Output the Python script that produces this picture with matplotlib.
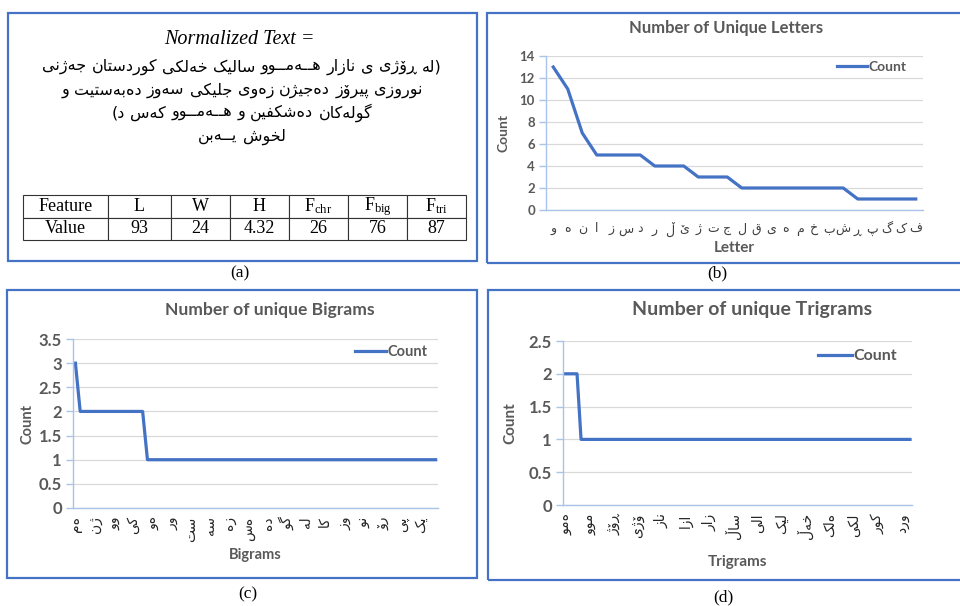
import numpy as np
import matplotlib
matplotlib.use("Agg")
import matplotlib.pyplot as plt
from matplotlib.patches import Rectangle
from matplotlib import font_manager
from matplotlib.ft2font import FT2Font

# ---------------- data ----------------
norm_title = "Normalized Text ="
norm_lines = [
    "(له ڕۆژی ی نازار هــەمــوو ساڵیک خەڵکی کوردستان جەژنی",
    "نوروزی پیرۆز دەجێژن زەوی جلێکی سەوز دەبەستێت و",
    "گوڵەکان دەشکفێن و هــەمــوو کەس د)",
    "ڵخوش یــەبن",
]
table_features = ["Feature", "L", "W", "H",
                  r"F$_{\mathrm{chr}}$", r"F$_{\mathrm{big}}$", r"F$_{\mathrm{tri}}$"]
table_values = ["Value", "93", "24", "4.32", "26", "76", "87"]

letters = ["و", "ە", "ن", "ا", "ز", "س", "د", "ر", "ڵ", "ێ", "ژ", "ت", "ج",
           "ل", "ق", "ی", "ه", "م", "خ", "ب", "ش", "ڕ", "پ", "گ", "ک", "ف"]
letter_counts = [13, 11, 7, 5, 5, 5, 5, 4, 4, 4, 3, 3, 3,
                 2, 2, 2, 2, 2, 2, 2, 2, 1, 1, 1, 1, 1]

bigram_counts = [3, 2, 2, 2, 2, 2, 2, 2, 2, 2, 2, 2, 2, 2, 2,
                 1, 1, 1, 1, 1, 1, 1, 1, 1, 1, 1, 1, 1, 1, 1, 1,
                 1, 1, 1, 1, 1, 1, 1, 1, 1, 1, 1, 1, 1, 1, 1, 1,
                 1, 1, 1, 1, 1, 1, 1, 1, 1, 1, 1, 1, 1, 1, 1, 1,
                 1, 1, 1, 1, 1, 1, 1, 1, 1, 1, 1, 1, 1]
bigram_labels = ["ەم", "ژن", "وو", "کی", "ەو", "ور", "ست", "سە", "زە", "ەس",
                 "دە", "گو", "ڵە", "کا", "وز", "نو", "رۆ", "پی", "ێک"]

trigram_counts = [2, 2, 2, 2,
                  1, 1, 1, 1, 1, 1, 1, 1, 1, 1, 1, 1, 1, 1, 1, 1,
                  1, 1, 1, 1, 1, 1, 1, 1, 1, 1, 1, 1, 1, 1, 1, 1,
                  1, 1, 1, 1, 1, 1, 1, 1, 1, 1, 1, 1, 1, 1, 1, 1,
                  1, 1, 1, 1, 1, 1, 1, 1, 1, 1, 1, 1, 1, 1, 1, 1,
                  1, 1, 1, 1, 1, 1, 1, 1, 1, 1, 1, 1, 1, 1, 1, 1,
                  1, 1, 1]
trigram_labels = ["ەمو", "موو", "ڕۆژ", "ۆژی", "ناز", "ازا", "زار", "ساڵ",
                  "اڵی", "ڵیک", "خەڵ", "ەڵک", "ڵکی", "کور", "ورد"]

# ---------------- figure ----------------
W, H = 960, 606
plt.rcParams["mathtext.fontset"] = "custom"
plt.rcParams["mathtext.rm"] = "Liberation Serif"
plt.rcParams["mathtext.it"] = "Liberation Serif:italic"
fig = plt.figure(figsize=(9.6, 6.06), dpi=100)
fig.patch.set_facecolor("white")
renderer = fig.canvas.get_renderer()

# ---------------- Arabic-script handling (simple shaper) ----------------
_ft = FT2Font(font_manager.findfont(font_manager.FontProperties(family="DejaVu Sans")))


def _has(ch):
    try:
        return _ft.get_char_index(ord(ch)) != 0
    except Exception:
        return False


def _f(*codes):
    return tuple(chr(c) if c else None for c in codes)


FORMS = {
    "\u0627": ("R",) + _f(0xFE8D, 0xFE8E, 0, 0),
    "\u0628": ("D",) + _f(0xFE8F, 0xFE90, 0xFE91, 0xFE92),
    "\u062A": ("D",) + _f(0xFE95, 0xFE96, 0xFE97, 0xFE98),
    "\u062C": ("D",) + _f(0xFE9D, 0xFE9E, 0xFE9F, 0xFEA0),
    "\u062E": ("D",) + _f(0xFEA5, 0xFEA6, 0xFEA7, 0xFEA8),
    "\u062F": ("R",) + _f(0xFEA9, 0xFEAA, 0, 0),
    "\u0631": ("R",) + _f(0xFEAD, 0xFEAE, 0, 0),
    "\u0632": ("R",) + _f(0xFEAF, 0xFEB0, 0, 0),
    "\u0633": ("D",) + _f(0xFEB1, 0xFEB2, 0xFEB3, 0xFEB4),
    "\u0634": ("D",) + _f(0xFEB5, 0xFEB6, 0xFEB7, 0xFEB8),
    "\u0641": ("D",) + _f(0xFED1, 0xFED2, 0xFED3, 0xFED4),
    "\u0642": ("D",) + _f(0xFED5, 0xFED6, 0xFED7, 0xFED8),
    "\u0644": ("D",) + _f(0xFEDD, 0xFEDE, 0xFEDF, 0xFEE0),
    "\u0645": ("D",) + _f(0xFEE1, 0xFEE2, 0xFEE3, 0xFEE4),
    "\u0646": ("D",) + _f(0xFEE5, 0xFEE6, 0xFEE7, 0xFEE8),
    "\u0647": ("D",) + _f(0xFEE9, 0xFEEA, 0xFEEB, 0xFEEC),
    "\u0648": ("R",) + _f(0xFEED, 0xFEEE, 0, 0),
    "\u06CC": ("D",) + _f(0xFBFC, 0xFBFD, 0xFBFE, 0xFBFF),
    "\u06A9": ("D",) + _f(0xFB8E, 0xFB8F, 0xFB90, 0xFB91),
    "\u06AF": ("D",) + _f(0xFB92, 0xFB93, 0xFB94, 0xFB95),
    "\u067E": ("D",) + _f(0xFB56, 0xFB57, 0xFB58, 0xFB59),
    "\u0698": ("R",) + _f(0xFB8A, 0xFB8B, 0, 0),
    "\u06C6": ("R",) + _f(0xFBD9, 0xFBDA, 0, 0),
    "\u06D5": ("R",) + _f(0x06D5, 0xFEEA, 0, 0),
    "\u0695": ("R",) + _f(0x0695, 0x0695, 0, 0),
    "\u06B5": ("D",) + _f(0x06B5, 0xFEDE, 0xFEDF, 0xFEE0),
    "\u06CE": ("D",) + _f(0x06CE, 0xFBFD, 0xFBFE, 0xFBFF),
    "\u0640": ("D",) + _f(0x0640, 0x0640, 0x0640, 0x0640),
}
MIRROR = {"(": ")", ")": "("}


def _shape_run(s):
    out = []
    n = len(s)
    for i, c in enumerate(s):
        f = FORMS.get(c)
        if f is None:
            out.append(c)
            continue
        prev = i > 0 and s[i - 1] in FORMS and FORMS[s[i - 1]][0] == "D"
        nxt = f[0] == "D" and i + 1 < n and s[i + 1] in FORMS
        if prev and nxt:
            g = f[4]
        elif prev:
            g = f[2]
        elif nxt:
            g = f[3]
        else:
            g = f[1]
        if g is None or not _has(g):
            g = c
        out.append(g)
    return "".join(reversed(out))


def _manual_visual(word):
    runs, cur, cur_ar = [], "", None
    for ch in word:
        ar = 0x0600 <= ord(ch) <= 0x06FF
        if cur_ar is None or ar == cur_ar:
            cur += ch
        else:
            runs.append((cur, cur_ar))
            cur = ch
        cur_ar = ar
    if cur:
        runs.append((cur, cur_ar))
    parts = []
    for r, a in reversed(runs):
        if a:
            parts.append(_shape_run(r))
        else:
            parts.append("".join(MIRROR.get(c, c) for c in reversed(r)))
    return "".join(parts)


def _text_width(s, fs=20):
    t = fig.text(0, 0, s, family="DejaVu Sans", fontsize=fs)
    w = t.get_window_extent(renderer).width
    t.remove()
    return w


# Does the text engine itself do bidi/shaping? (connected beh is much narrower)
ENGINE_SHAPES = _text_width("\u0628\u0628\u0628\u0628") < 0.8 * 4 * _text_width("\u0628")


def prep(word):
    return word if ENGINE_SHAPES else _manual_visual(word)


def fx(x):
    return x / W


def fy(y):
    return 1 - y / H


def ax_rect(l, t, r, b):
    return [l / W, 1 - b / H, (r - l) / W, (b - t) / H]


BLUE = "#4472C4"
GRAY = "#595959"
AXC = "#A9C4E8"
GRID = "#D9D9D9"

# panel boxes
for (l, t, r, b) in [(8, 13, 477, 261), (487, 13, 962, 263),
                     (7, 290, 477, 578), (488, 290, 962, 580)]:
    fig.add_artist(Rectangle((fx(l), fy(b)), (r - l) / W, (b - t) / H,
                             transform=fig.transFigure, fill=False,
                             edgecolor=BLUE, lw=1.6, zorder=10))

# captions
for lab, (x, y) in zip(["(a)", "(b)", "(c)", "(d)"],
                       [(240, 273), (717, 273), (248, 594), (723, 597)]):
    fig.text(fx(x), fy(y), lab, ha="center", va="center",
             family="Liberation Serif", fontsize=12.5, color="black")

# ---------------- panel (a) ----------------
fig.text(fx(239), fy(40), norm_title, ha="center", va="center",
         family="Liberation Serif", style="italic", fontsize=14.5, color="black")


def draw_words_rtl(line, xc, y, fs):
    """Lay the words of a right-to-left line out from right to left."""
    words = line.split(" ")
    texts = [fig.text(0, fy(y), prep(w), ha="left", va="center",
                      family="DejaVu Sans", fontsize=fs, color="black") for w in words]
    widths = [t.get_window_extent(renderer).width for t in texts]
    space = fs * 100 / 72 * 0.33
    total = sum(widths) + space * (len(words) - 1)
    x = xc + total / 2
    for t, w in zip(texts, widths):
        t.set_x(fx(x - w))
        x -= w + space


for line, y in zip(norm_lines, [67, 90, 113, 137]):
    draw_words_rtl(line, 242, y, 11.5)

tax = fig.add_axes(ax_rect(23, 195, 466, 240))
tax.axis("off")
widths = np.array([85, 63, 59, 59, 59, 59, 59], dtype=float)
tbl = tax.table(cellText=[table_features, table_values], bbox=[0, 0, 1, 1],
                colWidths=list(widths / widths.sum()), cellLoc="center")
tbl.auto_set_font_size(False)
for (r, c), cell in tbl.get_celld().items():
    cell.set_edgecolor("#333333")
    cell.set_linewidth(0.8)
    cell.get_text().set_fontfamily("Liberation Serif")
    cell.get_text().set_fontsize(13)


# ---------------- charts ----------------
def excel_chart(rect, counts, ylim, yticks, ytl, tick_fs, title, title_xy, title_fs,
                xlabel, xlabel_y, xlab_fs, ylabel_x, ylab_fs, leg_anchor, leg_fs,
                tick_pos, tick_labels, xt_fs, xt_rot, xt_pad, xt_col):
    ax = fig.add_axes(ax_rect(*rect))
    x = np.arange(len(counts))
    ax.plot(x, counts, color=BLUE, lw=2.3, label="Count", solid_joinstyle="round")
    ax.set_xlim(-0.5, len(counts) - 0.5)
    ax.set_ylim(*ylim)
    ax.set_yticks(yticks)
    ax.set_yticklabels(ytl)
    for s in ["top", "right"]:
        ax.spines[s].set_visible(False)
    for s in ["left", "bottom"]:
        ax.spines[s].set_color(AXC)
        ax.spines[s].set_linewidth(1.0)
    ax.yaxis.grid(True, color=GRID, lw=0.9)
    ax.set_axisbelow(True)
    ax.tick_params(axis="y", length=5, color=AXC, width=1.0, pad=3,
                   labelsize=tick_fs, labelcolor=GRAY)
    for t in ax.get_yticklabels():
        t.set_fontfamily("Lato")
        t.set_fontweight("bold")
    ax.set_xticks(tick_pos)
    ax.set_xticklabels([prep(s) for s in tick_labels], rotation=xt_rot,
                       family="DejaVu Sans", fontsize=xt_fs, color=xt_col)
    ax.tick_params(axis="x", length=0, pad=xt_pad)
    fig.text(fx(title_xy[0]), fy(title_xy[1]), title, ha="center", va="center",
             family="Lato", fontweight="bold", fontsize=title_fs, color=GRAY)
    ax.text(0.5, xlabel_y, xlabel, transform=ax.transAxes, ha="center", va="center",
            family="Lato", fontweight="bold", fontsize=xlab_fs, color=GRAY)
    ax.text(ylabel_x, 0.5, "Count", transform=ax.transAxes, ha="center", va="center",
            rotation=90, family="Lato", fontweight="bold", fontsize=ylab_fs, color=GRAY)
    leg = ax.legend(loc="upper right", bbox_to_anchor=leg_anchor, frameon=False,
                    borderpad=0, borderaxespad=0, handlelength=2.1, handletextpad=0.1,
                    prop={"family": "Lato", "weight": "bold", "size": leg_fs})
    for t in leg.get_texts():
        t.set_color(GRAY)
    return ax


# (b) letters
excel_chart((546, 56, 923, 210), letter_counts, (0, 14), np.arange(0, 15, 2),
            [str(v) for v in range(0, 15, 2)], 9.5,
            "Number of Unique Letters", (726, 28), 12,
            "Letter", -0.247, 11, -0.114, 10, (0.955, 0.97), 10,
            np.arange(len(letters)), letters, 9, 0, 9, "#404040")

# (c) bigrams
excel_chart((73, 339, 438, 508), bigram_counts, (0, 3.5), np.arange(0, 3.51, 0.5),
            ["0", "0.5", "1", "1.5", "2", "2.5", "3", "3.5"], 12,
            "Number of unique Bigrams", (270, 310), 12.6,
            "Bigrams", -0.278, 10.5, -0.126, 10.5, (0.97, 0.965), 10.5,
            np.arange(0, len(bigram_counts), 4), bigram_labels, 10, 90, 6, "#262626")

# (d) trigrams
excel_chart((563, 341, 912, 505), trigram_counts, (0, 2.5), np.arange(0, 2.51, 0.5),
            ["0", "0.5", "1", "1.5", "2", "2.5"], 12,
            "Number of unique Trigrams", (752, 310), 14,
            "Trigrams", -0.348, 11, -0.152, 11, (0.957, 0.95), 11.5,
            np.arange(0, len(trigram_counts), 6), trigram_labels, 10, 90, 6, "#262626")

fig.savefig("out.png", dpi=100, facecolor="white")
